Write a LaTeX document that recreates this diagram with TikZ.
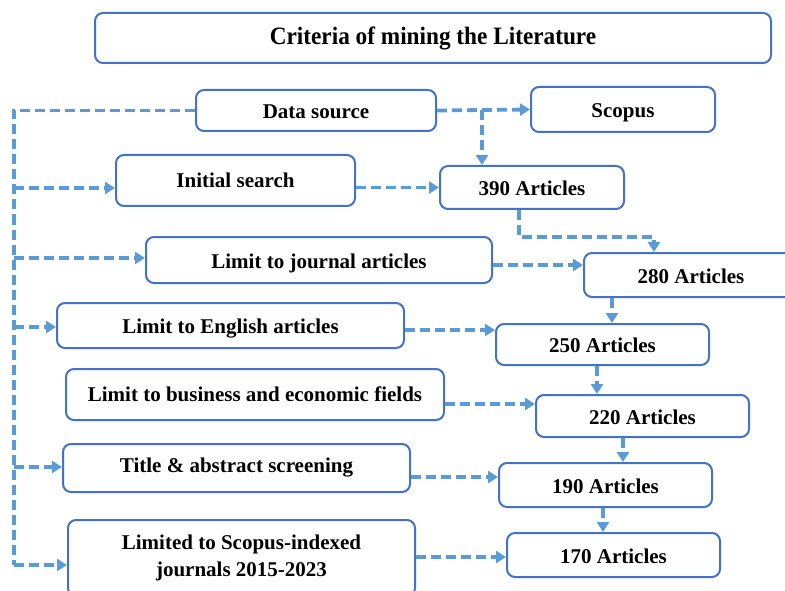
\documentclass[tikz,border=0pt]{standalone}
\usepackage{fontspec}
\setmainfont{Liberation Serif}
\newfontfamily\titlefont[FakeStretch=0.93]{Liberation Serif}
\usetikzlibrary{arrows.meta}
\definecolor{boxblue}{HTML}{4472C4}
\definecolor{linkblue}{HTML}{5B9BD5}
\tikzset{
  box/.style={draw=boxblue, line width=2pt, rounded corners=8pt, fill=white,
    inner sep=0pt, font=\fontsize{21}{27}\selectfont\bfseries, align=center},
  low/.style={box, text height=20pt, text depth=4pt},
  conn/.style={draw=linkblue, line width=3.8pt, dash pattern=on 10pt off 5pt},
  arr/.style={conn, -{Triangle[length=10pt,width=12pt]}},
}
\begin{document}
\begin{tikzpicture}[x=1pt,y=-1pt]
\clip (0,0) rectangle (785,591);
\fill[white] (0,0) rectangle (785,591);
% nodes
\node[box, minimum width=676pt, minimum height=50pt, font=\fontsize{25}{28}\titlefont\bfseries] (title) at (433,38) {Criteria of mining the Literature};
\node[low, minimum width=240pt, minimum height=41pt] (data) at (316,110.5) {Data source};
\node[low, minimum width=184pt, minimum height=45pt] (scopus) at (623,109.5) {Scopus};
\node[box, minimum width=239pt, minimum height=51pt] (init) at (235.5,180.5) {Initial search};
\node[low, minimum width=184pt, minimum height=43pt] (n390) at (532,187.5) {390 Articles};
\node[low, minimum width=346pt, minimum height=46pt] (journal) at (319,260) {Limit to journal articles};
\node[low, minimum width=214pt, minimum height=44pt] (n280) at (691,275) {280 Articles};
\node[low, minimum width=347pt, minimum height=45pt] (english) at (230.5,325.5) {Limit to English articles};
\node[low, minimum width=213pt, minimum height=41pt] (n250) at (602.5,344.5) {250 Articles};
\node[box, minimum width=378pt, minimum height=51pt] (business) at (255,394.5) {Limit to business and economic fields};
\node[low, minimum width=213pt, minimum height=42pt] (n220) at (642.5,416) {220 Articles};
\node[box, minimum width=347pt, minimum height=48pt] (screen) at (236.5,468) {Title \& abstract screening};
\node[low, minimum width=213pt, minimum height=44pt] (n190) at (605.5,485) {190 Articles};
\node[box, minimum width=347pt, minimum height=76pt] (limited) at (241.5,558) {Limited to Scopus-indexed\\journals 2015-2023};
\node[low, minimum width=213pt, minimum height=44pt] (n170) at (613.5,555) {170 Articles};
% left bus
\coordinate (bt) at (14,110.5);
\coordinate (bb) at (14,565);
\coordinate (b1) at (14,188);
\coordinate (b2) at (14,258);
\coordinate (b3) at (14,327);
\coordinate (b4) at (14,467);
\draw[conn] (data.west) -- (bt) -- (bb);
\draw[arr] (b1) -- (b1 -| init.west);
\draw[arr] (b2) -- (b2 -| journal.west);
\draw[arr] (b3) -- (b3 -| english.west);
\draw[arr] (b4) -- (b4 -| screen.west);
\draw[arr] (bb) -- (bb -| limited.west);
% right side
\coordinate (j1) at (482,110);
\draw[arr] (data.east) -- (scopus.west);
\draw[arr] (j1) -- (j1 |- n390.north);
\draw[arr] (n390.west -| init.east) -- (n390.west);
\coordinate (k1) at (519,237);
\coordinate (k2) at (654,237);
\draw[arr] (k1 |- n390.south) -- (k1) -- (k2) -- (k2 |- n280.north);
\coordinate (r1) at (0,265);
\draw[arr] (r1 -| journal.east) -- (r1 -| n280.west);
\coordinate (v1) at (612,0);
\draw[arr] (v1 |- n280.south) -- (v1 |- n250.north);
\coordinate (r2) at (0,330);
\draw[arr] (r2 -| english.east) -- (r2 -| n250.west);
\coordinate (v2) at (597,0);
\draw[arr] (v2 |- n250.south) -- (v2 |- n220.north);
\coordinate (r3) at (0,404);
\draw[arr] (r3 -| business.east) -- (r3 -| n220.west);
\coordinate (v3) at (623,0);
\draw[arr] (v3 |- n220.south) -- (v3 |- n190.north);
\coordinate (r4) at (0,477);
\draw[arr] (r4 -| screen.east) -- (r4 -| n190.west);
\coordinate (v4) at (603,0);
\draw[arr] (v4 |- n190.south) -- (v4 |- n170.north);
\coordinate (r5) at (0,557);
\draw[arr] (r5 -| limited.east) -- (r5 -| n170.west);
\end{tikzpicture}
\end{document}
